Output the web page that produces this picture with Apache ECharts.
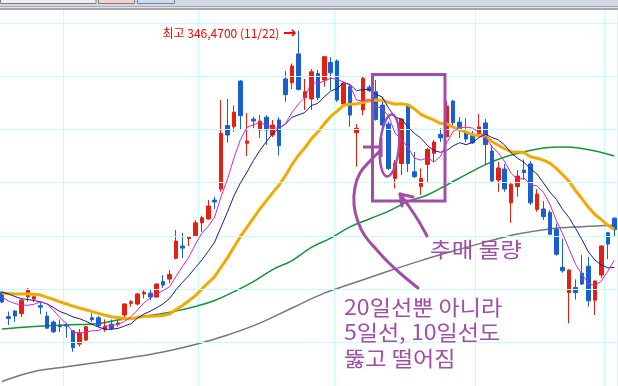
<!DOCTYPE html>
<html><head><meta charset="utf-8">
<script src="https://cdn.jsdelivr.net/npm/echarts@6/dist/echarts.min.js"></script>
<style>html,body{margin:0;padding:0;background:#fff;overflow:hidden}#c{width:618px;height:386px}</style>
</head><body><div id="c"></div>
<script>
// ---- data ----
const dates = ['09/12','09/13','09/16','09/17','09/23','09/24','09/25','09/26','09/27','09/30',
'10/01','10/02','10/04','10/07','10/08','10/10','10/11','10/14','10/15','10/16','10/17','10/18','10/21','10/22','10/23','10/24','10/25','10/28','10/29','10/30','10/31',
'11/01','11/04','11/05','11/06','11/07','11/08','11/11','11/12','11/13','11/14','11/15','11/18','11/19','11/20','11/21','11/22','11/25','11/26','11/27','11/28','11/29',
'12/02','12/03','12/04','12/05','12/06','12/09','12/10','12/11','12/12','12/13','12/16','12/17','12/18','12/19','12/20','12/23','12/24','12/25','12/26','12/27','12/30','12/31',
'01/02','01/03','01/06','01/07','01/08','01/09','01/10','01/13','01/14','01/15','01/16','01/17','01/20','01/21','01/22','01/23','01/24','01/27','01/28','01/29',
'02/03','02/04'];
const opens = [223.5,211.9,214.6,213.3,221.3,220.2,217.1,212.2,209.4,208.0,
208.2,205.3,199.0,200.9,211.4,211.4,205.8,208.4,208.3,212.7,
218.2,217.9,222.6,223.0,221.2,228.4,229.6,239.4,245.2,248.7,
250.1,256.1,257.9,266.8,272.0,301.9,301.3,322.8,293.5,304.9,
299.8,305.8,297.4,304.5,323.8,322.0,335.6,315.0,314.4,326.4,
323.3,331.6,332.3,312.0,320.2,298.5,309.2,319.9,317.8,311.5,
302.6,277.0,284.0,311.5,280.1,273.1,283.6,288.8,297.7,296.6,
313.4,303.5,298.6,297.3,298.2,303.1,289.9,276.2,281.4,265.5,
273.1,280.9,283.8,262.4,262.6,261.0,253.0,235.1,223.2,225.7,
232.4,235.7,219.7,231.5,251.4,258.3];
const closes = [218.8,211.1,212.2,219.7,224.8,221.3,216.4,206.5,204.8,207.2,
207.5,197.3,204.3,207.2,210.5,207.6,207.4,206.4,209.0,217.9,
218.9,222.6,223.4,221.2,227.3,226.8,231.8,247.5,244.2,249.5,
256.1,258.5,264.0,265.9,298.2,297.4,308.2,306.5,294.6,304.0,
304.0,299.8,302.1,292.4,316.4,329.9,318.9,317.8,327.2,315.1,
334.3,326.7,313.9,321.8,306.8,300.6,324.1,318.3,304.7,302.1,
281.7,284.1,304.9,284.0,277.8,277.0,290.7,294.1,296.1,311.1,
303.2,299.8,295.5,293.8,301.2,292.9,275.8,281.9,272.0,274.3,
278.1,279.7,265.5,269.6,259.0,250.7,241.3,233.5,233.9,223.2,
227.3,219.4,228.7,245.2,246.1,252.9];
const lows = [218.2,208.0,209.5,211.7,218.9,218.8,213.1,206.3,204.2,204.7,
202.0,195.4,197.8,200.4,209.5,207.0,204.8,205.6,207.2,211.1,
216.6,217.1,220.5,219.7,220.9,225.4,227.6,238.9,239.5,245.2,
249.5,251.8,257.6,262.6,270.7,293.8,299.0,299.8,287.5,300.7,
296.0,292.7,296.5,287.8,313.1,319.1,318.4,309.2,309.2,313.9,
320.2,318.6,313.0,311.1,301.3,282.5,306.8,317.7,304.2,299.8,
280.9,272.3,278.6,280.0,277.2,269.2,274.8,284.8,294.1,296.5,
301.2,296.0,294.1,293.2,296.5,283.3,275.0,270.7,270.7,256.1,
268.4,276.2,264.5,261.3,257.4,250.3,240.6,232.6,208.8,220.0,
226.8,216.7,212.7,230.1,239.0,249.9];
const highs = [223.7,214.3,214.8,220.2,225.4,222.6,218.9,214.3,210.1,210.6,
209.0,205.6,206.1,207.6,213.5,212.2,210.6,210.6,210.6,218.1,
219.7,223.2,224.4,224.4,227.5,231.5,233.9,252.7,251.4,249.9,
257.4,259.5,266.8,268.4,313.9,314.4,311.3,323.3,307.8,306.0,
306.8,306.8,304.5,305.7,327.5,331.1,346.47,323.8,328.5,328.0,
334.4,334.0,333.0,322.4,321.0,302.6,325.0,321.0,323.3,315.3,
303.7,285.6,305.3,312.0,289.4,281.7,291.4,295.1,300.6,313.4,
313.9,305.9,305.3,299.3,307.3,304.9,292.7,284.8,283.8,274.7,
280.9,286.0,285.2,271.9,266.3,262.1,255.8,248.5,234.1,229.5,
240.9,240.0,228.9,245.4,251.8,258.6];
const ma5 = [221.1,219.3,218.1,217.4,217.3,217.8,218.9,217.9,214.9,211.4,
208.6,204.7,204.2,204.7,205.3,205.4,207.4,207.8,208.2,209.7,
211.9,215.0,218.4,220.7,222.6,224.2,226.0,230.9,235.5,240.0,
245.9,251.2,254.5,258.8,268.6,276.8,286.7,295.3,301.0,302.2,
303.5,301.8,300.9,300.5,302.9,308.1,312.0,315.1,322.0,321.8,
322.7,324.2,323.5,322.4,320.7,313.9,313.4,314.3,310.9,309.9,
306.2,298.2,295.5,291.4,286.5,285.6,286.9,284.7,287.2,293.8,
299.1,300.9,301.1,300.7,298.7,296.7,291.9,289.1,284.8,279.4,
276.4,277.2,273.9,273.5,270.4,264.9,257.2,250.8,243.7,236.5,
231.8,227.5,226.5,228.7,233.3,238.5];
const ma10 = [223.5,222.6,221.4,220.4,220.0,219.5,218.9,217.9,216.2,214.3,
213.2,211.8,211.0,209.8,208.3,207.0,206.0,206.0,206.4,207.5,
208.6,211.2,213.1,214.5,216.1,218.0,220.5,224.6,228.1,231.3,
235.0,238.6,242.7,247.1,254.2,261.3,268.9,274.9,279.9,285.4,
290.1,294.3,298.1,300.7,302.6,305.8,306.9,308.0,311.3,312.3,
315.4,318.1,319.3,322.2,321.2,318.3,318.8,318.9,316.6,315.3,
310.0,305.8,304.9,301.1,298.2,295.9,292.5,290.1,289.3,290.1,
292.3,293.8,292.9,293.9,296.2,297.8,296.3,295.1,292.7,289.0,
286.5,284.5,281.5,279.1,274.9,270.6,267.2,262.3,258.5,253.4,
248.1,242.3,238.6,236.2,234.9,235.1];
const ma20 = [222.9,222.8,222.6,222.6,222.6,222.5,222.1,221.0,220.0,218.9,
217.9,216.9,216.0,215.2,214.3,213.4,212.6,211.9,211.5,210.9,
210.9,211.5,212.1,212.1,212.2,212.5,213.2,215.3,217.2,219.4,
221.8,224.9,227.9,230.8,235.2,239.7,244.7,249.7,254.0,258.3,
262.6,266.4,270.3,273.9,278.4,283.5,287.9,291.4,295.6,298.8,
302.7,306.2,308.7,311.4,311.9,312.0,312.8,313.4,313.9,313.8,
312.7,311.9,312.1,311.6,309.7,307.1,305.7,304.5,302.9,302.7,
301.1,299.8,298.9,297.5,297.2,296.9,294.4,292.6,291.0,289.6,
289.4,289.2,287.2,286.5,285.6,284.2,281.7,278.7,275.6,271.2,
267.4,263.4,260.0,257.6,254.9,252.9];
// long averages, read at sampled candles
const ma60Idx = [0,5,10,15,18,21,24,27,30,33,36,39,42,45,48,51,54,57,60,63,66,69,72,75,78,81,84,87,90,93,95];
const ma60Val = [206.1,207.3,208.0,208.7,210.3,211.7,212.9,214.6,216.7,219.5,223.7,228.4,234.1,238.3,244.5,248.9,254.2,257.9,261.6,266.1,269.2,273.9,278.8,283.5,287.1,289.5,291.3,291.8,291.1,289.2,287.5];
const ma120Idx = [0,5,10,15,20,25,30,35,40,45,50,55,60,65,70,75,80,85,90,95];
const ma120Val = [181.4,186.1,188.3,190.5,192.7,195.3,198.8,203.3,208.9,216.0,223.0,228.2,233.4,238.3,242.8,247.0,250.8,253.2,254.3,255.0];
const priceGrid = [350, 325, 300, 275, 250, 225, 200];
const yRange = {min: 179.29, max: 356.26};

// ---- styles ----
const RED = '#e81e10', BLUE = '#1a5fce', PURPLE = '#a24ea9';
const GRIDC = '#c6fcfc';
const KFONT = '"Noto Sans CJK KR", "Noto Sans", sans-serif';

const ohlc = opens.map((o, i) => [o, closes[i], lows[i], highs[i]]);
const monthStarts = dates.map((d, i) => i > 0 && d.slice(0, 2) !== dates[i - 1].slice(0, 2));
const hiIdx = highs.indexOf(Math.max(...highs));
const hiText = '{t|최고 ' + highs[hiIdx].toFixed(4).replace('.', ',') + ' (' + dates[hiIdx] + ')} {a|→}';

const chart = echarts.init(document.getElementById('c'), null, {renderer: 'canvas'});
const lineS = (name, data, color, width, smooth, z) => ({
  name, type: 'line', data, showSymbol: false, symbol: 'none', smooth: smooth,
  lineStyle: {color, width}, itemStyle: {color}, z, silent: true
});
const txt = (x, y, s, sx) => ({type: 'text', z: 50, x, y, scaleX: sx, style: {x: 0, y: 0, text: s, fill: PURPLE, font: '21px ' + KFONT, verticalAlign: 'middle'}});
chart.setOption({
  animation: false,
  backgroundColor: '#ffffff',
  grid: {left: -1.2, right: 0.5, top: 10, bottom: 0, containLabel: false, outerBoundsMode: 'none'},
  xAxis: {
    type: 'category', data: dates, boundaryGap: true,
    axisLine: {show: false}, axisTick: {show: false}, axisLabel: {show: false},
    splitLine: {show: true, interval: (i) => monthStarts[i], lineStyle: {color: GRIDC, width: 1}}
  },
  yAxis: {
    type: 'value', min: yRange.min, max: yRange.max, scale: false,
    axisLine: {show: false}, axisTick: {show: false}, axisLabel: {show: false},
    splitLine: {show: false}
  },
  series: [
    {
      name: 'grid', type: 'line', data: [], z: 1, silent: true,
      markLine: {silent: true, symbol: 'none', animation: false, label: {show: false},
        lineStyle: {color: GRIDC, width: 1, type: 'solid'},
        emphasis: {disabled: true},
        data: priceGrid.map(v => ({yAxis: v}))}
    },
    lineS('120일', ma120Idx.map((k, j) => [k, ma120Val[j]]), '#777777', 1.5, 0.4, 2),
    lineS('60일', ma60Idx.map((k, j) => [k, ma60Val[j]]), '#13953a', 1.5, 0.4, 2),
    {
      name: '일봉', type: 'candlestick', data: ohlc, barWidth: 4, z: 3,
      itemStyle: {color: RED, color0: BLUE, borderColor: RED, borderColor0: BLUE, borderWidth: 1},
      markPoint: {
        symbol: 'circle', symbolSize: 0, silent: true,
        data: [{coord: [hiIdx, highs[hiIdx]], value: highs[hiIdx]}],
        label: {show: true, position: 'left', distance: 2, offset: [0, 3], formatter: hiText,
          color: '#ff0000', fontSize: 12, fontFamily: KFONT,
          rich: {
            t: {color: '#ff0000', fontSize: 12, fontFamily: KFONT, padding: [0, 1, 0, 0]},
            a: {color: '#ff0000', fontSize: 16, fontWeight: 'bold', fontFamily: '"DejaVu Sans", sans-serif'}
          }}
      }
    },
    lineS('20일', ma20, '#f2a900', 3, false, 4),
    lineS('10일', ma10, '#141c9c', 1, false, 5),
    lineS('5일', ma5, '#dc25c4', 1, false, 6)
  ],
  graphic: [
    // window header strip
    {type: 'rect', z: 100, shape: {x: 0, y: 0, width: 618, height: 6.5}, style: {fill: '#d1d8e6'}},
    {type: 'rect', z: 101, shape: {x: 0.5, y: -2, width: 95.5, height: 5.5}, style: {fill: '#efefef', stroke: '#808080', lineWidth: 1}},
    {type: 'rect', z: 101, shape: {x: 98.5, y: -2, width: 36, height: 5.5}, style: {fill: '#f6d0c8', stroke: '#808080', lineWidth: 1}},
    {type: 'rect', z: 101, shape: {x: 137.5, y: -2, width: 37, height: 5.5}, style: {fill: '#c9daf2', stroke: '#808080', lineWidth: 1}},
    {type: 'rect', z: 100, shape: {x: 0, y: 6.5, width: 618, height: 2}, style: {fill: '#e4e4e4'}},
    {type: 'line', z: 100, shape: {x1: 0, y1: 6.5, x2: 618, y2: 6.5}, style: {stroke: '#a8abb2', lineWidth: 1}},
    {type: 'line', z: 100, shape: {x1: 0, y1: 9, x2: 618, y2: 9}, style: {stroke: '#8e8e8e', lineWidth: 1.6}},
    // hand-drawn purple marks
    {type: 'rect', z: 50, shape: {x: 372.5, y: 74.5, width: 72.5, height: 126.5}, style: {fill: 'none', stroke: PURPLE, lineWidth: 3}},
    {type: 'ellipse', z: 50, x: 389.5, y: 145.5, rotation: -0.08, shape: {cx: 0, cy: 0, rx: 9.5, ry: 31}, style: {fill: 'none', stroke: PURPLE, lineWidth: 2.5}},
    {type: 'polyline', z: 50, shape: {points: [[363, 147], [381, 147]]}, style: {stroke: PURPLE, lineWidth: 3, fill: 'none'}},
    {type: 'polyline', z: 50, shape: {points: [[381, 138], [381, 157]]}, style: {stroke: PURPLE, lineWidth: 3, fill: 'none'}},
    {type: 'polyline', z: 50, shape: {smooth: 0.4, points: [[381, 150], [370, 161], [360, 173], [355, 187], [354, 205], [358, 222], [365, 236], [376, 249], [388, 262], [401, 274], [418, 288]]}, style: {stroke: PURPLE, lineWidth: 3, fill: 'none', lineCap: 'round'}},
    {type: 'polyline', z: 50, shape: {smooth: 0.3, points: [[427, 236], [418, 220], [408, 205], [400, 194]]}, style: {stroke: PURPLE, lineWidth: 3, fill: 'none', lineCap: 'round'}},
    {type: 'polyline', z: 50, shape: {points: [[413, 197], [400, 194], [402, 206]]}, style: {stroke: PURPLE, lineWidth: 3, fill: 'none', lineCap: 'round', lineJoin: 'round'}},
    txt(430, 249, '추매 물량', 1.12),
    txt(344, 307, '20일선뿐 아니라', 1.1),
    txt(344, 332.5, '5일선, 10일선도', 1.1),
    txt(344, 358, '뚫고 떨어짐', 1.1)
  ]
});
</script></body></html>
